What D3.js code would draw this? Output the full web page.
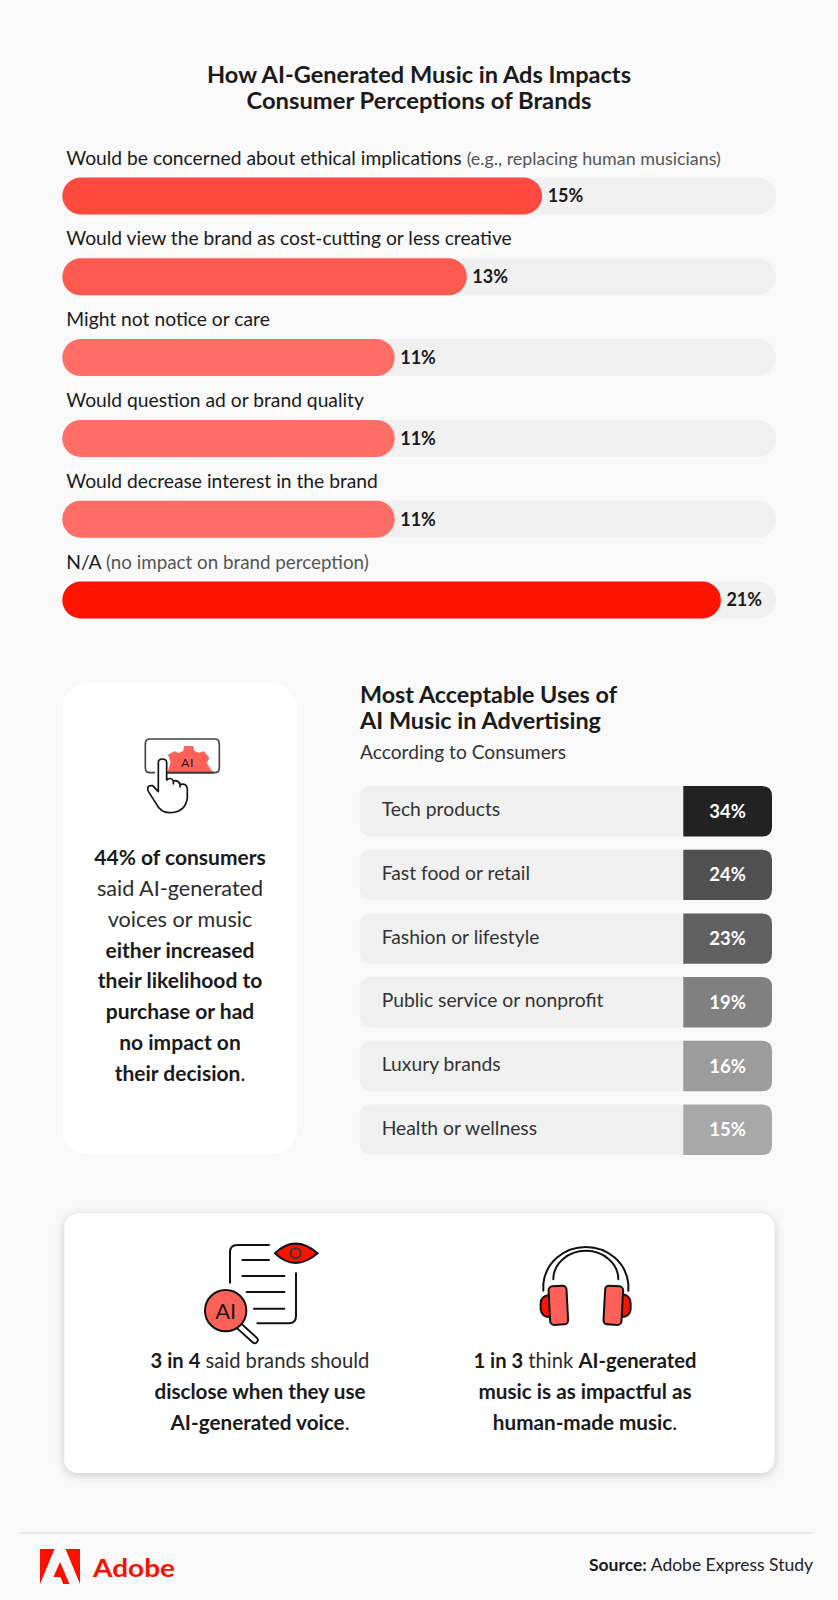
<!DOCTYPE html>
<html><head><meta charset="utf-8">
<script src="https://cdn.jsdelivr.net/npm/d3@7"></script>
<style>
html,body{margin:0;padding:0;background:#f9f9f9}
svg{display:block}
text{font-family:Lato,"Noto Sans",sans-serif;fill:#1a1a1a}
</style></head><body>
<svg id="c" width="838" height="1600"></svg>
<script>
// --- data ---
const titleLines = ["How AI-Generated Music in Ads Impacts", "Consumer Perceptions of Brands"];
const perceptionLabels = ["Would be concerned about ethical implications","Would view the brand as cost-cutting or less creative","Might not notice or care","Would question ad or brand quality","Would decrease interest in the brand","N/A"];
const perceptionNotes = ["(e.g., replacing human musicians)","","","","","(no impact on brand perception)"];
const perceptionValues = [15.3, 12.9, 10.6, 10.6, 10.6, 21];
const perceptionColors = ["#ff4a40","#ff5a50","#ff6e66","#ff6e66","#ff6e66","#ff1200"];
const useLabels = ["Tech products","Fast food or retail","Fashion or lifestyle","Public service or nonprofit","Luxury brands","Health or wellness"];
const useValues = [34,24,23,19,16,15];
const useColors = ["#222222","#505050","#606060","#808080","#9c9c9c","#a8a8a8"];

const svg = d3.select("#c");
const fmt = d3.format(".0f");

// text helper: runs = [[string, weight, colour?, size?]...]
function line(x, y, runs, size, anchor, width){
  const t = svg.append("text").attr("x",x).attr("y",y).attr("font-size",size).attr("text-anchor",anchor||"start");
  runs.forEach(r=>{
    t.append("tspan").text(r[0]).attr("font-weight",r[1]||400)
     .style("fill",r[2]||null).attr("font-size",r[3]||null);
  });
  if(width){ t.attr("textLength",width).attr("lengthAdjust","spacingAndGlyphs"); }
  return t;
}

// title
line(419,83,[[titleLines[0],700]],22,"middle",424);
line(419,109,[[titleLines[1],700]],22,"middle",345);

// perception bars
const trackX = 62.3, trackW = 713.7, barH = 37;
const noteSize = i => i===0 ? 17.9 : 18.8;
const x = d3.scaleLinear().domain([0,21]).range([0,658.6]);
const y = d3.scalePoint().domain(d3.range(6)).range([177.5,581.5]);
const g = svg.append("g");
g.selectAll("rect.track").data(perceptionValues).join("rect").attr("class","track")
  .attr("x",trackX).attr("y",(d,i)=>y(i)).attr("width",trackW).attr("height",barH).attr("rx",18.5).attr("fill","#f0f0f0");
g.selectAll("rect.bar").data(perceptionValues).join("rect").attr("class","bar")
  .attr("x",trackX).attr("y",(d,i)=>y(i)).attr("width",d=>x(d)).attr("height",barH).attr("rx",18.5)
  .attr("fill",(d,i)=>perceptionColors[i]);
perceptionValues.forEach((d,i)=>{
  line(trackX+x(d)+5.5,y(i)+24.8,[[fmt(d)+"%",700]],18);
  const runs=[[perceptionLabels[i]+(perceptionNotes[i]?" ":""),400]];
  if(perceptionNotes[i]) runs.push([perceptionNotes[i],400,"#555555",noteSize(i)]);
  line(66.3,y(i)-13,runs,19.25);
});

// left panel
svg.append("rect").attr("x",62.3).attr("y",683).attr("width",234.7).attr("height",471).attr("rx",26).attr("fill","#ffffff");
const panelLines=[
 [["44% of consumers",700]],
 [["said AI-generated",400,"#2c2c2c",21.6]],
 [["voices or music",400,"#2c2c2c",21.6]],
 [["either increased",700]],
 [["their likelihood to",700]],
 [["purchase or had",700]],
 [["no impact on",700]],
 [["their decision",700],[".",400]]
];
const panelY=d3.scalePoint().domain(d3.range(8)).range([865,1081]);
panelLines.forEach((r,i)=>line(180,panelY(i),r,21,"middle"));

// icon: hand + AI gear
const ic1=svg.append("g").attr("transform","translate(130,720) scale(0.3333)");
ic1.append("path").attr("d","M75 158 L60 158 Q46 158 46 144 L46 72 Q46 57 60 57 L254 57 Q268 57 268 72 L268 144 Q268 158 254 158 L112 158")
  .attr("fill","none").attr("stroke","#444").attr("stroke-width",5);
ic1.append("path").attr("d","M112 158 L122 126 L114 104 L134 94 L146 100 L160 92 L162 78 L190 78 L192 92 L207 98 L222 94 L238 114 L230 128 L243 150 L252 158 Z")
  .attr("fill","#ff6159");
ic1.append("text").attr("x",173).attr("y",142).attr("text-anchor","middle").attr("font-size",37).attr("letter-spacing",2).text("AI");
ic1.append("path").attr("d","M112 158 L252 158").attr("stroke","#333").attr("stroke-width",5);
ic1.append("path").attr("d","M85 128 Q85 117 97 117 Q110 117 110 128 L110 180 Q122 170 130 182 L130 192 L130 184 Q142 178 150 192 L150 200 L150 194 Q168 188 172 205 L172 235 Q165 278 118 278 Q92 278 78 250 L55 214 Q48 195 68 197 L85 215 Z")
  .attr("fill","#fff").attr("stroke","#111").attr("stroke-width",5).attr("stroke-linejoin","round");

// right heading
line(360,703,[["Most Acceptable Uses of",700]],22,"start",257);
line(360,729,[["AI Music in Advertising",700]],22,"start",241);
line(360,759,[["According to Consumers",400,"#333333"]],19,"start",206);

// use rows
const rowX=359.7,rowW=412.3,cellX=683.3;
const ry=d3.scaleBand().domain(d3.range(6)).range([786,1154.9]).paddingInner(0.209).paddingOuter(0);
const rows=svg.append("g");
rows.selectAll("rect.row").data(useValues).join("rect").attr("class","row")
  .attr("x",rowX).attr("y",(d,i)=>ry(i)).attr("width",rowW).attr("height",ry.bandwidth()).attr("rx",10).attr("fill","#f0f0f0");
const cellPath=(h)=>{const w=rowX+rowW-cellX,r=10;return `M0 0H${w-r}Q${w} 0 ${w} ${r}V${h-r}Q${w} ${h} ${w-r} ${h}H0Z`;};
rows.selectAll("path.cell").data(useValues).join("path").attr("class","cell")
  .attr("transform",(d,i)=>`translate(${cellX},${ry(i)})`).attr("d",cellPath(ry.bandwidth()))
  .attr("fill",(d,i)=>useColors[i]);
useValues.forEach((d,i)=>{
  const cy=ry(i)+ry.bandwidth()/2;
  line(381.7,cy+5,[[useLabels[i],400,"#333333"]],19.3);
  line(727.5,cy+6.5,[[d+"%",700,"#ffffff"]],18.5,"middle");
});

// bottom card
const defs=svg.append("defs");
const f=defs.append("filter").attr("id","sh").attr("x","-5%").attr("y","-10%").attr("width","110%").attr("height","125%");
f.append("feDropShadow").attr("dx",0).attr("dy",2).attr("stdDeviation",5).attr("flood-color","#000").attr("flood-opacity",0.2);
svg.append("rect").attr("x",64.3).attr("y",1213.6).attr("width",710).attr("height",259.5).attr("rx",14).attr("fill","#fff").attr("filter","url(#sh)");

// document icon
const ic2=svg.append("g").attr("transform","translate(180,1220) scale(0.3333)").attr("fill","none").attr("stroke","#111").attr("stroke-width",6).attr("stroke-linecap","round");
ic2.append("path").attr("d","M150 188 L150 97 Q150 75 172 75 L267 75 M348 160 L348 288 Q348 310 326 310 L232 310");
ic2.append("path").attr("d","M187 120H267 M187 168H313 M200 216H313 M222 266H313");
ic2.append("path").attr("d","M285 100 Q345 42 413 100 Q345 158 285 100 Z").attr("fill","#ff1200");
ic2.append("circle").attr("cx",347).attr("cy",100).attr("r",15).attr("stroke","#333");
ic2.append("path").attr("d","M182 322 L224 360").attr("stroke-width",24);
ic2.append("path").attr("d","M182 322 L224 360").attr("stroke","#fff").attr("stroke-width",13);
ic2.append("circle").attr("cx",137).attr("cy",272).attr("r",62).attr("fill","#ff6159");
ic2.append("text").attr("x",137).attr("y",296).attr("text-anchor","middle").attr("font-size",66).attr("stroke","none").text("AI");

// headphones icon
const ic3=svg.append("g").attr("transform","translate(500,1220) scale(0.3333)").attr("fill","none").attr("stroke","#111").attr("stroke-width",6).attr("stroke-linecap","round").attr("stroke-linejoin","round");
ic3.append("path").attr("d","M130 212 L130 192 A128 122 0 0 1 385 192 L385 212");
ic3.append("path").attr("d","M160 178 A97 85 0 0 1 355 178");
ic3.append("path").attr("d","M148 225 Q122 228 122 250 L122 268 Q125 292 152 292 Z").attr("fill","#ff1200");
ic3.append("path").attr("d","M366 222 Q392 226 392 250 L392 268 Q390 290 362 292 Z").attr("fill","#ff1200");
ic3.append("rect").attr("x",148).attr("y",198).attr("width",54).attr("height",116).attr("rx",12).attr("fill","#ff6159").attr("transform","rotate(-3 175 256)");
ic3.append("rect").attr("x",313).attr("y",198).attr("width",54).attr("height",116).attr("rx",12).attr("fill","#ff6159").attr("transform","rotate(3 340 256)");

// card texts
const cardY=d3.scalePoint().domain(d3.range(3)).range([1368,1430]);
[[["3 in 4",700,null,20.2],[" said brands should",400,"#2c2c2c",20.2]],[["disclose when they use",700]],[["AI-generated voice",700],[".",400]]]
  .forEach((r,i)=>line(260,cardY(i),r,20.7,"middle"));
[[["1 in 3",700,null,20.2],[" think ",400,"#2c2c2c",20.2],["AI-generated",700,null,20.2]],[["music is as impactful as",700]],[["human-made music",700],[".",400]]]
  .forEach((r,i)=>line(585,cardY(i),r,20.7,"middle"));

// footer
svg.append("line").attr("x1",20).attr("x2",813).attr("y1",1533).attr("y2",1533).attr("stroke","#e3e3e3").attr("stroke-width",1.5);
const logo=svg.append("g").attr("fill","#fa0f00");
logo.append("path").attr("d","M40 1549H54.5L40 1584Z");
logo.append("path").attr("d","M65.5 1549H80V1584Z");
logo.append("path").attr("d","M60 1562L69.5 1584H63.3L60.4 1577H53.5Z");
line(93,1577,[["Adobe",700,"#fa0f00"]],25,"start",82);
line(813,1571,[["Source:",700],[" Adobe Express Study",400,"#222222"]],17,"end",224);
</script>
</body></html>
